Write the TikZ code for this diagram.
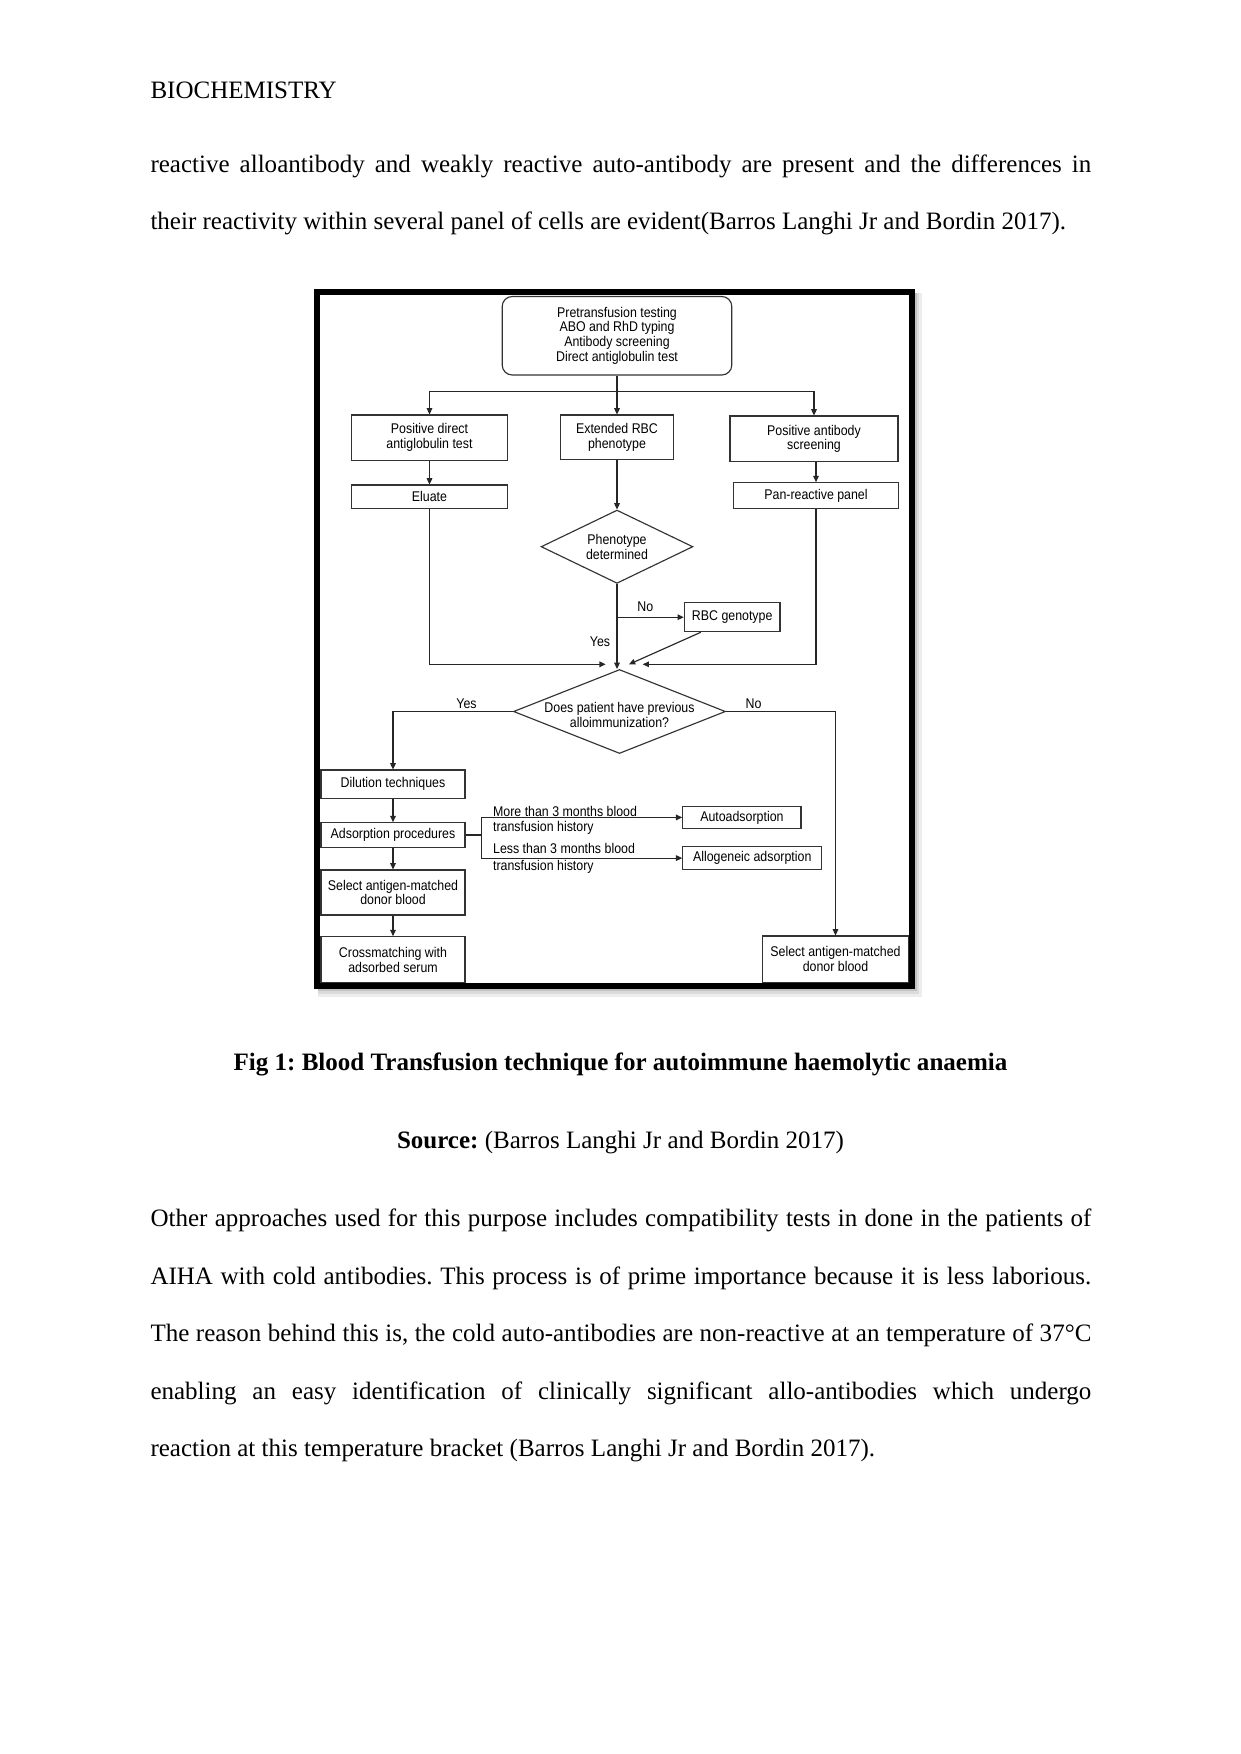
\documentclass[tikz,border=0pt]{standalone}
\usepackage{fontspec}
\setmainfont{Liberation Serif}
\newfontfamily\diagfam[FakeStretch=0.88]{Liberation Sans}
\usetikzlibrary{arrows.meta,shapes.geometric,calc}
\frenchspacing
\def\px{0.47968pt}
\newcommand\dfont{\diagfam\fontsize{6.75}{7.1}\selectfont}
\newcommand\bodyfont{\fontsize{12}{14.4}\selectfont}
\newcommand\TW{451.28pt}
\begin{document}
\begin{tikzpicture}[x=0.47968pt,y=-0.47968pt,
  sz/.style 2 args={minimum width=#1*\px,minimum height=#2*\px},
  box/.style={draw=black!80,line width=0.55pt,fill=white,inner sep=0pt,align=center,font=\dfont},
  dia/.style={draw=black!80,line width=0.55pt,diamond,inner sep=0pt,fill=white},
  lab/.style={font=\dfont,inner sep=0pt,align=center},
  ln/.style={line width=0.55pt,draw=black!85},
  arr/.style={ln,-{Triangle[length=3pt,width=2.7pt]}},
  body/.style={font=\bodyfont,inner sep=0pt,anchor=base west},
  capt/.style={font=\bodyfont,inner sep=0pt,anchor=base}]
\useasboundingbox (0,0) rectangle (1241,1754);
\fill[white] (0,0) rectangle (1241,1754);

% ---- page text ----
\node[body] (hdr) at (150.1,98.3) {BIOCHEMISTRY};
\node[body] (p1a) at (150.1,172.7) {\makebox[\TW][s]{reactive alloantibody and weakly reactive auto-antibody are present and the differences in}};
\node[body] (p1b) at (150.1,229.8) {their reactivity within several panel of cells are evident(Barros Langhi Jr and Bordin 2017).};

\node[capt] (cap) at (620.5,1070) {\textbf{Fig 1: Blood Transfusion technique for autoimmune haemolytic anaemia}};
\node[capt] (src) at (620.5,1148.5) {\textbf{Source:} (Barros Langhi Jr and Bordin 2017)};

\node[body] (p2a) at (150.1,1226.8) {\makebox[\TW][s]{Other approaches used for this purpose includes compatibility tests in done in the patients of}};
\node[body] (p2b) at (150.1,1284.2) {\makebox[\TW][s]{AIHA with cold antibodies. This process is of prime importance because it is less laborious.}};
\node[body] (p2c) at (150.1,1341.6) {\makebox[\TW][s]{The reason behind this is, the cold auto-antibodies are non-reactive at an temperature of 37°C}};
\node[body] (p2d) at (150.1,1399.0) {\makebox[\TW][s]{enabling an easy identification of clinically significant allo-antibodies which undergo}};
\node[body] (p2e) at (150.1,1456.4) {reaction at this temperature bracket (Barros Langhi Jr and Bordin 2017).};

% ---- figure frame shadow and background ----
\fill[black!7] (318,293) rectangle (922,997);
\fill[black!14] (318,293) rectangle (919,994);
\fill[black!24] (318,293) rectangle (917,991);
\fill[white] (314,289) rectangle (915,989);

% ---- nodes ----
\node[box,rounded corners=4.8pt,sz={229.6}{78.5}] (top) at (617,335.75)
  {Pretransfusion testing\\ABO and RhD typing\\Antibody screening\\Direct antiglobulin test};
\node[box,sz={155.5}{45.5}] (pdat) at (429.5,437.75) {Positive direct\\antiglobulin test};
\node[box,sz={112.8}{44.3}] (erbc) at (617,437.2) {Extended RBC\\phenotype};
\node[box,sz={168}{45.7}] (pas) at (814,438.9) {Positive antibody\\screening};
\node[box,sz={156.4}{23.3}] (elu) at (429.5,496.7) {Eluate};
\node[box,sz={164.9}{25.6}] (pan) at (816,495.5) {Pan-reactive panel};
\node[dia,sz={151.8}{73.3}] (phen) at (617,546.7) {};
\node[lab] (phent) at (617,547) {Phenotype\\determined};
\node[box,sz={95.7}{29}] (rbcg) at (732.2,617.2) {RBC genotype};
\node[dia,sz={212}{84}] (allo) at (619.5,711.5) {};
\node[lab] (allot) at (619.5,715) {Does patient have previous\\alloimmunization?};
\node[box,sz={144}{28.3}] (dil) at (393,784.2) {Dilution techniques};
\node[box,sz={144}{24.6}] (ads) at (393,835) {Adsorption procedures};
\node[box,sz={144}{45}] (sel) at (393,892.5) {Select antigen-matched\\donor blood};
\node[box,sz={144}{46}] (cross) at (393,959.7) {Crossmatching with\\adsorbed serum};
\node[box,sz={118.2}{21.8}] (auto) at (741.9,817.4) {Autoadsorption};
\node[box,sz={138.9}{22.8}] (allog) at (752.25,858.1) {Allogeneic adsorption};
\node[box,sz={145.6}{46.5}] (selr) at (835.5,959.25) {Select antigen-matched\\donor blood};

% ---- connectors ----
\coordinate (hb) at (617,391.7);
\draw[arr] (top.south) -- (erbc.north);
\draw[arr] (hb) -| (pdat.north);
\draw[arr] (hb) -| (pas.north);
\draw[arr] (pdat.south) -- (elu.north);
\draw[arr] (pas.south -| pan.north) -- (pan.north);
\draw[arr] (erbc.south) -- (phen.north);
\draw[arr] (phen.south) -- (phen.south |- allo.north);
\draw[arr] (phen.south |- rbcg.west) -- (rbcg.west);
\node[lab] (no1) at (645.4,606.7) {No};
\node[lab] (yes1) at (600,641.7) {Yes};
\coordinate (etip) at (605.7,664.3);
\coordinate (dtip) at (629,664.3);
\coordinate (ptip) at (642.7,664.3);
\draw[arr] (elu.south) |- (etip);
\draw[arr] ($(rbcg.south west)+(17,0)$) -- (dtip);
\draw[arr] (pan.south) |- (ptip);

\draw[arr] (allo.west) -| (dil.north);
\node[lab] (yes2) at (466.5,703.3) {Yes};
\draw[arr] (allo.east) -| (selr.north);
\node[lab] (no2) at (753.6,703.3) {No};

\draw[arr] (dil.south) -- (ads.north);
\draw[arr] (ads.south) -- (sel.north);
\draw[arr] (sel.south) -- (cross.north);

\coordinate (bk) at (481.7,835);
\draw[ln] (ads.east) -- (bk);
\draw[arr] (bk) |- (auto.west);
\draw[arr] (bk) |- (allog.west);
\node[lab,anchor=base west] (m1) at (492.7,816) {More than 3 months blood};
\node[lab,anchor=base west] (m2) at (492.7,831.7) {transfusion history};
\node[lab,anchor=base west] (l1) at (492.7,853.3) {Less than 3 months blood};
\node[lab,anchor=base west] (l2) at (492.7,870.7) {transfusion history};

% ---- frame on top ----
\draw[line width=2.9pt,black] (317,292) rectangle (911.7,985.8);
\end{tikzpicture}
\end{document}
